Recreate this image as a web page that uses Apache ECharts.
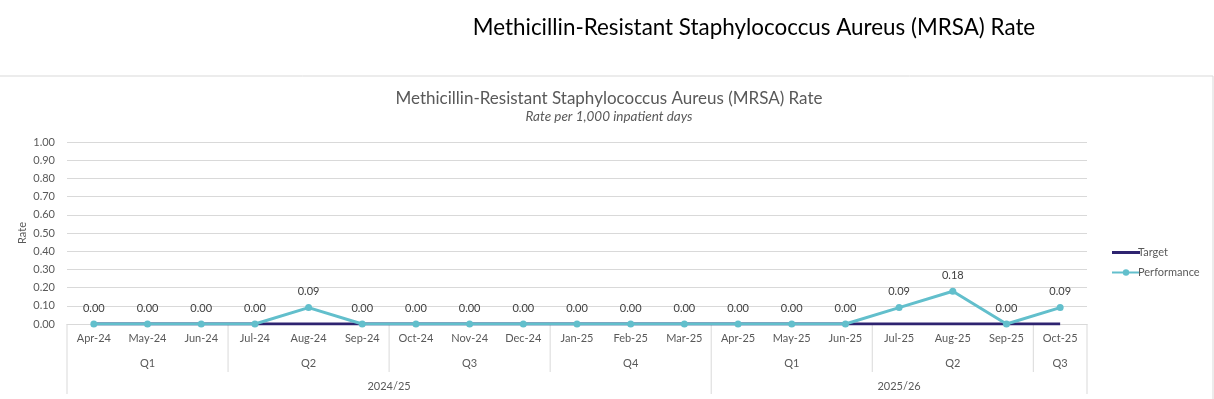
<!DOCTYPE html>
<html>
<head>
<meta charset="utf-8">
<script src="https://cdn.jsdelivr.net/npm/echarts@6/dist/echarts.min.js"></script>
<style>
html,body{margin:0;padding:0;background:#fff;}
#c{width:1214px;height:399px;}
</style>
</head>
<body>
<div id="c"></div>
<script>
const pageTitle = 'Methicillin-Resistant Staphylococcus Aureus (MRSA) Rate';
const chartTitle = 'Methicillin-Resistant Staphylococcus Aureus (MRSA) Rate';
const chartSubtitle = 'Rate per 1,000 inpatient days';
const yAxisName = 'Rate';
const months = ['Apr-24','May-24','Jun-24','Jul-24','Aug-24','Sep-24','Oct-24','Nov-24','Dec-24','Jan-25','Feb-25','Mar-25','Apr-25','May-25','Jun-25','Jul-25','Aug-25','Sep-25','Oct-25'];
const quarters = ['Q1','Q1','Q1','Q2','Q2','Q2','Q3','Q3','Q3','Q4','Q4','Q4','Q1','Q1','Q1','Q2','Q2','Q2','Q3'];
const years = ['2024/25','2024/25','2024/25','2024/25','2024/25','2024/25','2024/25','2024/25','2024/25','2024/25','2024/25','2024/25','2025/26','2025/26','2025/26','2025/26','2025/26','2025/26','2025/26'];
const target = [0,0,0,0,0,0,0,0,0,0,0,0,0,0,0,0,0,0,0];
const performance = [0,0,0,0,0.09,0,0,0,0,0,0,0,0,0,0,0.09,0.18,0,0.09];

const FONT = 'Lato, "Open Sans", sans-serif';
const GRID = {left: 67, right: 127, top: 142, bottom: 75};
const chart = echarts.init(document.getElementById('c'), null, {renderer: 'canvas'});

chart.setOption({
  animation: false,
  textStyle: {fontFamily: FONT},
  title: {
    text: chartTitle,
    subtext: chartSubtitle,
    left: 604, textAlign: 'center', top: 85,
    itemGap: 3,
    textStyle: {fontFamily: FONT, fontSize: 17, fontWeight: 'normal', color: '#595959'},
    subtextStyle: {fontFamily: FONT, fontSize: 13.5, fontStyle: 'italic', color: '#595959'}
  },
  legend: {
    orient: 'vertical', left: 1106, top: 242,
    itemWidth: 28, itemHeight: 8, itemGap: 9,
    textStyle: {fontFamily: FONT, fontSize: 11, color: '#595959', padding: [0,0,0,-7]},
    data: [
      {name: 'Target', icon: 'path://M0,0H28V3H0Z'},
      {name: 'Performance'}
    ]
  },
  grid: GRID,
  xAxis: {
    type: 'category', data: months, boundaryGap: true,
    axisLine: {show: true, lineStyle: {color: '#d9d9d9', width: 1}},
    axisTick: {show: false},
    axisLabel: {fontFamily: FONT, fontSize: 11, color: '#595959', margin: 9, interval: 0}
  },
  yAxis: {
    type: 'value', min: 0, max: 1, interval: 0.1,
    axisLine: {show: false}, axisTick: {show: false},
    axisLabel: {fontFamily: FONT, fontSize: 11, color: '#595959', margin: 12,
      formatter: v => v.toFixed(2)},
    splitLine: {lineStyle: {color: '#d9d9d9', width: 1}}
  },
  series: [
    {
      name: 'Target', type: 'line', data: target, z: 2,
      symbol: 'none', showSymbol: false,
      lineStyle: {color: '#2e2370', width: 3},
      itemStyle: {color: '#2e2370'}
    },
    {
      name: 'Performance', type: 'line', data: performance, z: 3,
      symbol: 'circle', symbolSize: 7,
      lineStyle: {color: '#62bfcc', width: 3},
      itemStyle: {color: '#62bfcc'},
      label: {show: true, position: 'top', distance: 7, fontFamily: FONT, fontSize: 11, color: '#404040',
        formatter: p => p.value.toFixed(2)}
    }
  ]
});

// multi-level category axis, axis name and frame
function drawExtras() {
  const xs = months.map((m, i) => chart.convertToPixel({xAxisIndex: 0}, i));
  const band = xs[1] - xs[0];
  const y0 = chart.convertToPixel({yAxisIndex: 0}, 0);
  const y1 = chart.convertToPixel({yAxisIndex: 0}, 1);
  const left = xs[0] - band / 2;
  const right = xs[xs.length - 1] + band / 2;
  const g = [];
  g.push({type: 'rect', shape: {x: -1, y: 76, width: 1214, height: 400},
    style: {fill: null, stroke: '#d9d9d9', lineWidth: 1}, silent: true, z: 0});
  g.push({type: 'text', x: 754, y: 28, style: {text: pageTitle, fontFamily: FONT, fontSize: 22.4,
    fill: '#000', align: 'center', verticalAlign: 'middle'}, z: 10});
  g.push({type: 'text', x: 22, y: (y0 + y1) / 2, rotation: Math.PI / 2,
    style: {text: yAxisName, fontFamily: FONT, fontSize: 11, fill: '#595959', align: 'center', verticalAlign: 'middle'}});
  const qBottom = y0 + 48, yBottom = y0 + 70;
  const lineStyle = {stroke: '#d9d9d9', lineWidth: 1};
  g.push({type: 'line', shape: {x1: left, y1: y0, x2: left, y2: yBottom}, style: lineStyle});
  g.push({type: 'line', shape: {x1: right, y1: y0, x2: right, y2: yBottom}, style: lineStyle});
  let s = 0;
  for (let i = 1; i <= months.length; i++) {
    if (i === months.length || quarters[i] !== quarters[s] || years[i] !== years[s]) {
      const cx = (xs[s] + xs[i - 1]) / 2;
      g.push({type: 'text', x: cx, y: y0 + 39, style: {text: quarters[s], fontFamily: FONT, fontSize: 11,
        fill: '#595959', align: 'center', verticalAlign: 'middle'}});
      if (i < months.length) {
        const bx = xs[i] - band / 2;
        const full = years[i] !== years[i - 1];
        g.push({type: 'line', shape: {x1: bx, y1: y0, x2: bx, y2: full ? yBottom : qBottom}, style: lineStyle});
      }
      s = i;
    }
  }
  s = 0;
  for (let i = 1; i <= months.length; i++) {
    if (i === months.length || years[i] !== years[s]) {
      const cx = (xs[s] + xs[i - 1]) / 2;
      g.push({type: 'text', x: cx, y: y0 + 62, style: {text: years[s], fontFamily: FONT, fontSize: 11,
        fill: '#595959', align: 'center', verticalAlign: 'middle'}});
      s = i;
    }
  }
  chart.setOption({graphic: g});
}
drawExtras();
</script>
</body>
</html>
